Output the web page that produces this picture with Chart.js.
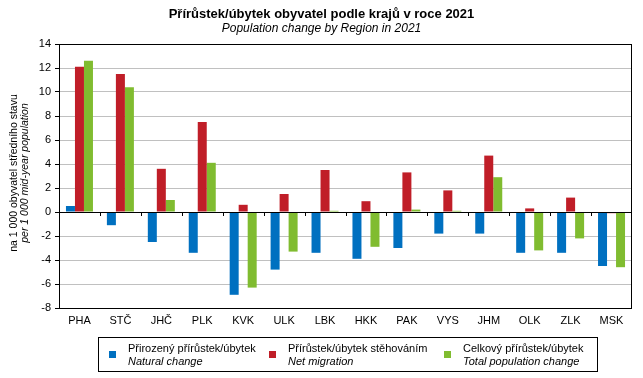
<!DOCTYPE html>
<html><head><meta charset="utf-8">
<script src="https://cdn.jsdelivr.net/npm/chart.js@4/dist/chart.umd.min.js"></script>
<style>
html,body{margin:0;padding:0;background:#fff;}
#wrap{position:relative;width:643px;height:378px;font-family:"Liberation Sans",Arial,sans-serif;}
#title{position:absolute;left:0;top:6px;width:643px;text-align:center;font-weight:bold;font-size:13px;color:#000;}
#subtitle{position:absolute;left:0;top:21px;width:643px;text-align:center;font-style:italic;font-size:12px;color:#000;}
#legend{position:absolute;left:98px;top:337px;width:500px;height:35px;border:1px solid #000;box-sizing:border-box;}
.li{position:absolute;top:0;font-size:11px;line-height:13px;color:#000;}
.li .sq{position:absolute;top:13px;width:7px;height:7px;}
.li .l1{position:absolute;left:0;top:4px;white-space:nowrap;}
.li .l2{position:absolute;left:0;top:17px;white-space:nowrap;font-style:italic;}
canvas{position:absolute;left:0;top:0;}
</style></head>
<body><div id="wrap">
<canvas id="c" width="643" height="378"></canvas>
<div id="title"></div><div id="subtitle"></div>
<div id="legend"></div>
</div>
<script>
const titleText = "Přírůstek/úbytek obyvatel podle krajů v roce 2021";
const subtitleText = "Population change by Region in 2021";
const yTitle1 = "na 1 000 obyvatel středního stavu";
const yTitle2 = "per 1 000 mid-year population";
const categories = ["PHA","STČ","JHČ","PLK","KVK","ULK","LBK","HKK","PAK","VYS","JHM","OLK","ZLK","MSK"];
const naturalChange = [0.5,-1.1,-2.5,-3.4,-6.9,-4.8,-3.4,-3.9,-3.0,-1.8,-1.8,-3.4,-3.4,-4.5];
const netMigration = [12.1,11.5,3.6,7.5,0.6,1.5,3.5,0.9,3.3,1.8,4.7,0.3,1.2,-0.1];
const totalChange = [12.6,10.4,1.0,4.1,-6.3,-3.3,0.1,-2.9,0.2,0.1,2.9,-3.2,-2.2,-4.6];
const seriesNames1 = ["Přirozený přírůstek/úbytek","Přírůstek/úbytek stěhováním","Celkový přírůstek/úbytek"];
const seriesNames2 = ["Natural change","Net migration","Total population change"];
const colors = ["#0070C0","#C01E28","#80BC30"];
const yTicks = [-8,-6,-4,-2,0,2,4,6,8,10,12,14];

document.getElementById('title').textContent = titleText;
document.getElementById('subtitle').textContent = subtitleText;
const legendTextX = [29, 189, 364];
const lg = document.getElementById('legend');
seriesNames1.forEach((n,i)=>{
  const d = document.createElement('div'); d.className='li'; d.style.left=legendTextX[i]+'px';
  d.innerHTML = '<div class="sq" style="left:-19px;background:'+colors[i]+'"></div><div class="l1"></div><div class="l2"></div>';
  d.querySelector('.l1').textContent = n; d.querySelector('.l2').textContent = seriesNames2[i];
  lg.appendChild(d);
});

const FONT = "'Liberation Sans', Arial, sans-serif";
const framePlugin = {
  id:'frame',
  afterDatasetsDraw(chart){
    const {ctx, chartArea:a, scales} = chart;
    const y0 = scales.y.getPixelForValue(0);
    ctx.save();
    ctx.strokeStyle='#000'; ctx.lineWidth=1;
    ctx.beginPath(); ctx.moveTo(a.left-4, Math.round(y0)+0.5); ctx.lineTo(a.right, Math.round(y0)+0.5); ctx.stroke();
    const n = categories.length;
    for(let k=1;k<n;k++){
      const x = Math.round((scales.x.getPixelForValue(k-1)+scales.x.getPixelForValue(k))/2)+0.5;
      ctx.beginPath(); ctx.moveTo(x, Math.round(y0)); ctx.lineTo(x, Math.round(y0)+4); ctx.stroke();
    }
    ctx.strokeRect(Math.round(a.left)+0.5, Math.round(a.top)+0.5, Math.round(a.right-a.left)-1, Math.round(a.bottom-a.top));
    // y-axis title
    const cy = 173;
    ctx.fillStyle='#000'; ctx.textAlign='center'; ctx.textBaseline='middle';
    ctx.translate(14, cy); ctx.rotate(-Math.PI/2);
    ctx.font = "10.5px "+FONT; ctx.fillText(yTitle1, 0, 0);
    ctx.font = "italic 10.5px "+FONT; ctx.fillText(yTitle2, 0, 11.5);
    ctx.restore();
  }
};

new Chart(document.getElementById('c'), {
  type:'bar',
  data:{
    labels:categories,
    datasets:[
      {label:seriesNames1[0], data:naturalChange, backgroundColor:colors[0]},
      {label:seriesNames1[1], data:netMigration, backgroundColor:colors[1]},
      {label:seriesNames1[2], data:totalChange, backgroundColor:colors[2]}
    ]
  },
  options:{
    responsive:false, animation:false,
    layout:{padding:{left:0,right:11,top:44,bottom:0}},
    datasets:{bar:{barPercentage:1.0, categoryPercentage:0.66, borderWidth:0}},
    plugins:{legend:{display:false}, title:{display:false}, tooltip:{enabled:false}},
    scales:{
      x:{
        grid:{display:false, drawTicks:false},
        border:{display:false},
        ticks:{color:'#000', font:{size:11, family:FONT}, padding:6, maxRotation:0, autoSkip:false},
        afterFit(s){ s.height = 70; }
      },
      y:{
        min:-8, max:14,
        afterBuildTicks(s){ s.ticks = yTicks.map(v=>({value:v})); },
        grid:{color:(c)=> c.tick && c.tick.value===0 ? '#000' : '#C0C0C0', tickColor:'#000', tickLength:4, drawOnChartArea:true},
        border:{display:true, color:'#000'},
        ticks:{color:'#000', font:{size:11, family:FONT}, padding:4},
        afterFit(s){ s.width = 59; }
      }
    }
  },
  plugins:[framePlugin]
});
</script>
</body></html>
